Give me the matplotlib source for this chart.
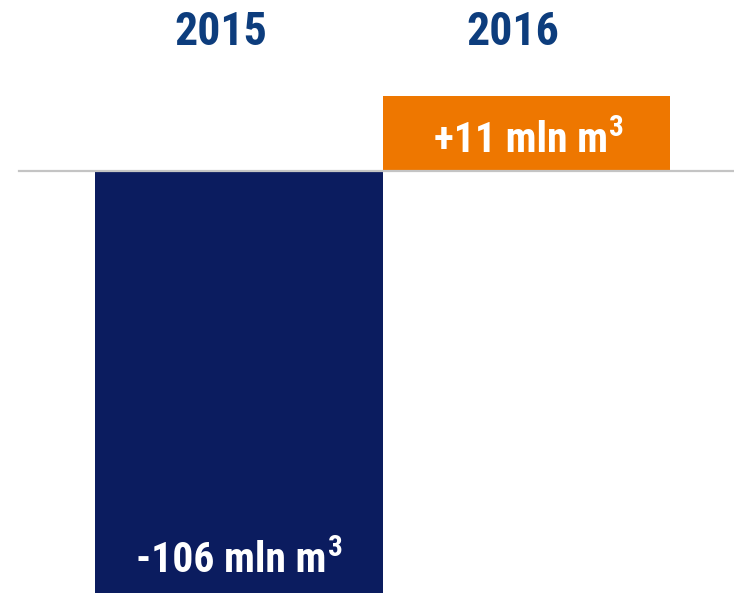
import matplotlib
matplotlib.use("Agg")
import matplotlib.pyplot as plt

# data
years = ["2015", "2016"]
labels = ["-106 mln m", "+11 mln m"]
unit_sup = "3"
# bar lengths as drawn (the source chart is not to scale)
bar_length = [-106, 19]
colors = ["#0B1C5F", "#EE7700"]

fnt = ["Roboto Condensed", "DejaVu Sans"]

fig = plt.figure(figsize=(7.34, 5.93), dpi=100)
ax = fig.add_axes([0, 0, 1, 1])
ax.axis("off")

xs = range(len(years))
ax.bar(xs, bar_length, width=1.0, color=colors, zorder=2)
ax.set_xlim(-0.831, 1.723)
ax.set_ylim(-106, 43.1)
ax.axhline(0, xmin=19/734, xmax=1, color="#C4C4C4", lw=1.6, zorder=3)

# year headers sit a bit left of the bar centres
year_x = [-0.064, 0.953]
for i, yr in enumerate(years):
    ax.text(year_x[i], 31.8, yr, ha="center", va="baseline", fontsize=33, fontweight="bold",
            color="#0D3D7D", family=fnt)

# value labels inside bars, with a raised "3"
lab_x = [-0.025, 0.983]
lab_y = [-100.7, 4.9]
for i, lab in enumerate(labels):
    t = ax.text(lab_x[i], lab_y[i], lab, ha="center", va="baseline", fontsize=30,
                fontweight="bold", color="white", family=fnt)
    ax.annotate(unit_sup, xy=(1, 1), xycoords=t, xytext=(0.5, 4), textcoords="offset points",
                ha="left", va="top", fontsize=21, fontweight="bold", color="white", family=fnt)

plt.savefig("out.png", dpi=100)
